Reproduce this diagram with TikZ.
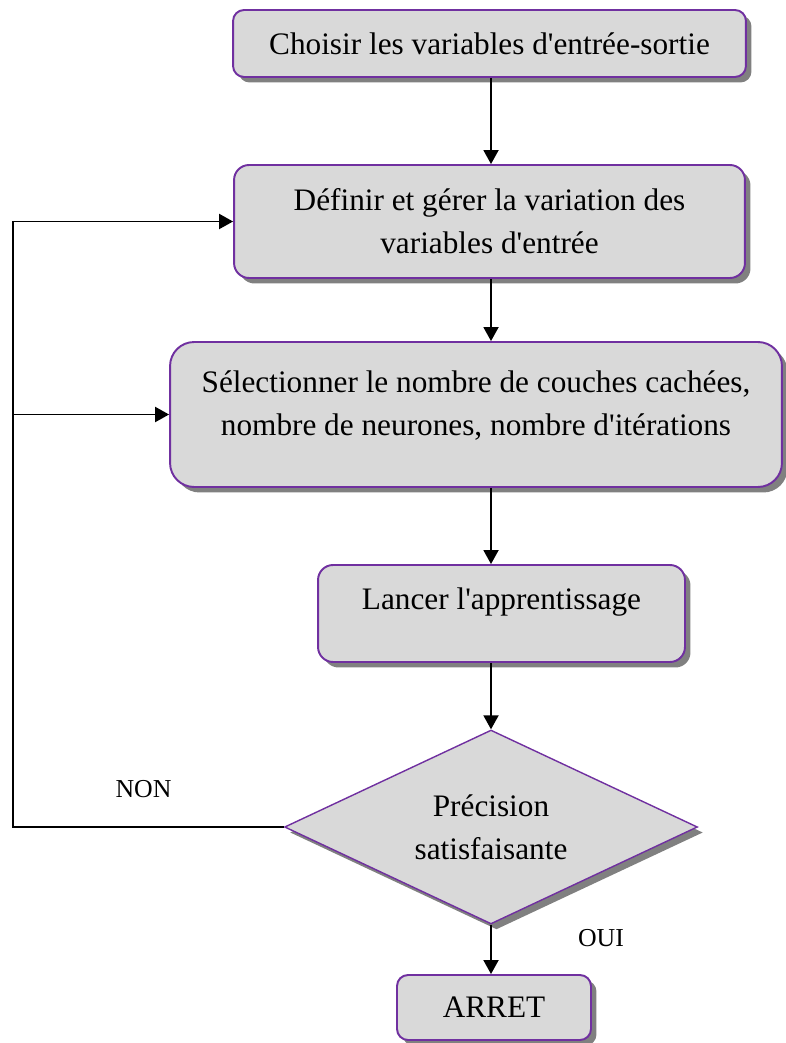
\documentclass[tikz,border=0pt]{standalone}
\usepackage{fontspec}
\setmainfont{Liberation Serif}[Ligatures=TeXOff]
\usetikzlibrary{shapes.geometric,shadows,arrows.meta}

\definecolor{violet}{HTML}{7030A0}
\definecolor{grisfond}{HTML}{D9D9D9}
\definecolor{grisombre}{HTML}{808080}

\tikzset{
  boite/.style={draw=violet, line width=1.1pt, fill=grisfond, rounded corners=0.3cm,
    align=center, inner sep=0pt, font=\fontsize{17.8}{24.5}\selectfont,
    drop shadow={shadow xshift=0.11cm, shadow yshift=-0.11cm, fill=grisombre, opacity=1}},
  losange/.style={boite, diamond, rounded corners=0pt, line width=0.8pt, aspect=2.13},
  fleche/.style={line width=1.1pt, -{Triangle[length=0.28cm, width=0.3cm]}},
  ligne/.style={line width=1.1pt},
  etiq/.style={font=\fontsize{14.7}{17}\selectfont}
}

\begin{document}
\begin{tikzpicture}[x=0.02cm, y=-0.02cm]
  \useasboundingbox (0,0) rectangle (786,1043);
  % les cinq boites et le test
  \node[boite, rounded corners=0.22cm, minimum width=10.26cm, minimum height=1.34cm] (choix) at (489.5,43.5)
    {Choisir les variables d'entrée-sortie};
  \node[boite, minimum width=10.22cm, minimum height=2.26cm] (definir) at (489.5,221.5)
    {Définir et gérer la variation des\\variables d'entrée};
  \node[boite, rounded corners=0.48cm, minimum width=12.24cm, minimum height=2.9cm, text depth=0.45cm] (selection) at (476,414.5)
    {Sélectionner le nombre de couches cachées,\\nombre de neurones, nombre d'itérations};
  \node[boite, minimum width=7.34cm, minimum height=1.94cm, text depth=0.6cm] (lancer) at (501.5,613.5)
    {Lancer l'apprentissage};
  \node[losange, minimum width=8.26cm, minimum height=3.88cm] (precision) at (491,827)
    {Précision\\satisfaisante};
  \node[boite, rounded corners=0.22cm, minimum width=3.88cm, minimum height=1.3cm] (arret) at (494,1007.5)
    {ARRET};
  % colonne principale
  \draw[fleche] (choix.south -| precision.north) -- (definir.north -| precision.north);
  \draw[fleche] (definir.south -| precision.north) -- (selection.north -| precision.north);
  \draw[fleche] (selection.south -| precision.north) -- (lancer.north -| precision.north);
  \draw[fleche] (lancer.south -| precision.north) -- (precision.north);
  \draw[fleche] (precision.south) -- (arret.north -| precision.south);
  % retour NON
  \coordinate (bord) at (13,827);
  \draw[ligne] (precision.west) -- (bord) -- (bord |- definir.west);
  \draw[fleche] (bord |- definir.west) -- (definir.west);
  \draw[fleche] (bord |- selection.west) -- (selection.west);
  \node[etiq] (non) at (143.5,789) {NON};
  \node[etiq] (oui) at (601,938) {OUI};
\end{tikzpicture}
\end{document}
